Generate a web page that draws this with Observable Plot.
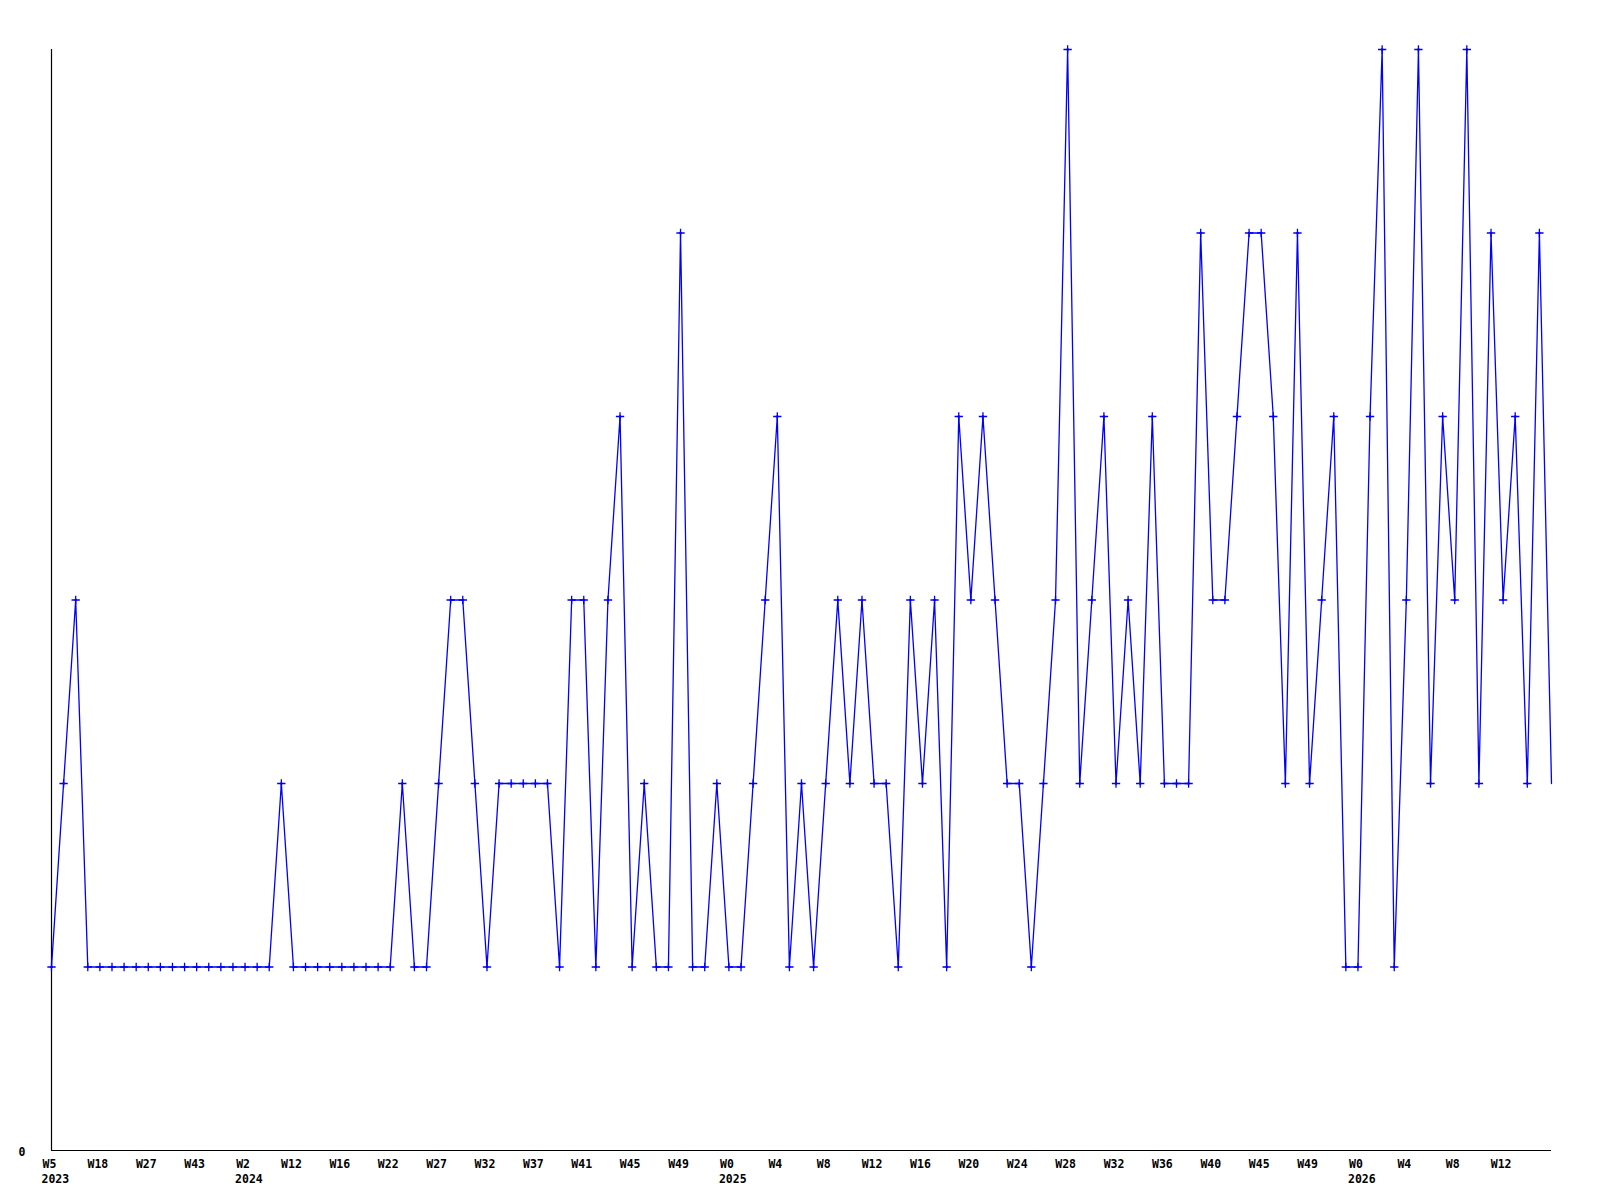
<!DOCTYPE html>
<html>
<head>
<meta charset="utf-8">
<script src="https://cdn.jsdelivr.net/npm/d3@7"></script>
<script src="https://cdn.jsdelivr.net/npm/@observablehq/plot@0.6"></script>
<style>
  html, body { margin: 0; padding: 0; background: #ffffff; }
</style>
</head>
<body>
<div id="chart"></div>
<script>
// Weekly counts, one value per plotted week (in order)
const values = [
  1, 2, 3,
  1, 1, 1, 1, 1, 1, 1, 1, 1, 1, 1, 1, 1, 1, 1, 1,
  2,
  1, 1, 1, 1, 1, 1, 1, 1, 1,
  2, 1, 1, 2, 3, 3, 2, 1, 2, 2, 2, 2, 2, 1, 3, 3, 1, 3, 4, 1, 2, 1, 1, 5, 1, 1, 2,
  1, 1, 2, 3, 4, 1, 2, 1, 2, 3, 2, 3, 2, 2, 1, 3, 2, 3, 1, 4, 3, 4, 3, 2, 2, 1, 2, 3, 6,
  2, 3, 4, 2, 3, 2, 4, 2, 2, 2, 5, 3, 3, 4, 5, 5, 4, 2, 5, 2, 3, 4,
  1, 1, 4, 6, 1, 3, 6, 2, 4, 3, 6, 2, 5, 3, 4, 2, 5, 2
];

// Tick labels shown every 4th week
const weekTickLabels = [
  "W5", "W18", "W27", "W43", "W2", "W12", "W16", "W22", "W27", "W32", "W37",
  "W41", "W45", "W49", "W0", "W4", "W8", "W12", "W16", "W20", "W24", "W28",
  "W32", "W36", "W40", "W45", "W49", "W0", "W4", "W8", "W12"
];
const tickStep = 4;

// Year labels and the tick (index into weekTickLabels) under which they appear
const yearLabels = ["2023", "2024", "2025", "2026"];
const yearTickIndex = [0, 4, 14, 27];

const data = values.map((v, i) => ({i, v}));
const weekTicks = weekTickLabels.map((_, k) => k * tickStep);
const weekLabelOf = new Map(weekTicks.map((t, k) => [t, weekTickLabels[k]]));
const yearTicks = yearTickIndex.map(k => k * tickStep);
const yearLabelOf = new Map(yearTicks.map((t, k) => [t, yearLabels[k]]));

const chart = Plot.plot({
  width: 1600,
  height: 1200,
  marginLeft: 51,
  marginRight: 49,
  marginTop: 49,
  marginBottom: 50,
  style: {
    fontFamily: "'DejaVu Sans Mono', monospace",
    fontSize: "11.5px",
    fontWeight: "bold",
    color: "#000",
    background: "#fff"
  },
  x: {domain: [0, values.length - 1], axis: null, label: null},
  y: {domain: [0, 6], axis: null, label: null},
  marks: [
    Plot.ruleX([0], {y1: 0, y2: 6, stroke: "#000", strokeWidth: 1.2}),
    Plot.ruleY([0], {stroke: "#000", strokeWidth: 1.2}),
    Plot.axisX({
      ticks: weekTicks,
      tickFormat: d => weekLabelOf.get(d),
      tickSize: 0,
      tickPadding: 9,
      dx: -2,
      label: null,
      fill: "#000"
    }),
    Plot.axisX({
      ticks: yearTicks,
      tickFormat: d => yearLabelOf.get(d),
      tickSize: 0,
      tickPadding: 24,
      textAnchor: "start",
      dx: -10,
      label: null,
      fill: "#000"
    }),
    Plot.axisY({
      ticks: [0],
      tickFormat: d => String(d),
      tickSize: 0,
      tickPadding: 26,
      dy: 1.5,
      label: null,
      fill: "#000"
    }),
    Plot.line(data, {x: "i", y: "v", stroke: "#0000ff", strokeWidth: 1.3}),
    Plot.dot(data.slice(0, -1), {x: "i", y: "v", symbol: "plus", r: 2.8, stroke: "#0000ff", strokeWidth: 1.3}),
    Plot.dot(data.slice(0, -1), {x: "i", y: "v", r: 1.3, fill: "#0000ff", stroke: null})
  ]
});

document.getElementById("chart").appendChild(chart);
</script>
</body>
</html>
